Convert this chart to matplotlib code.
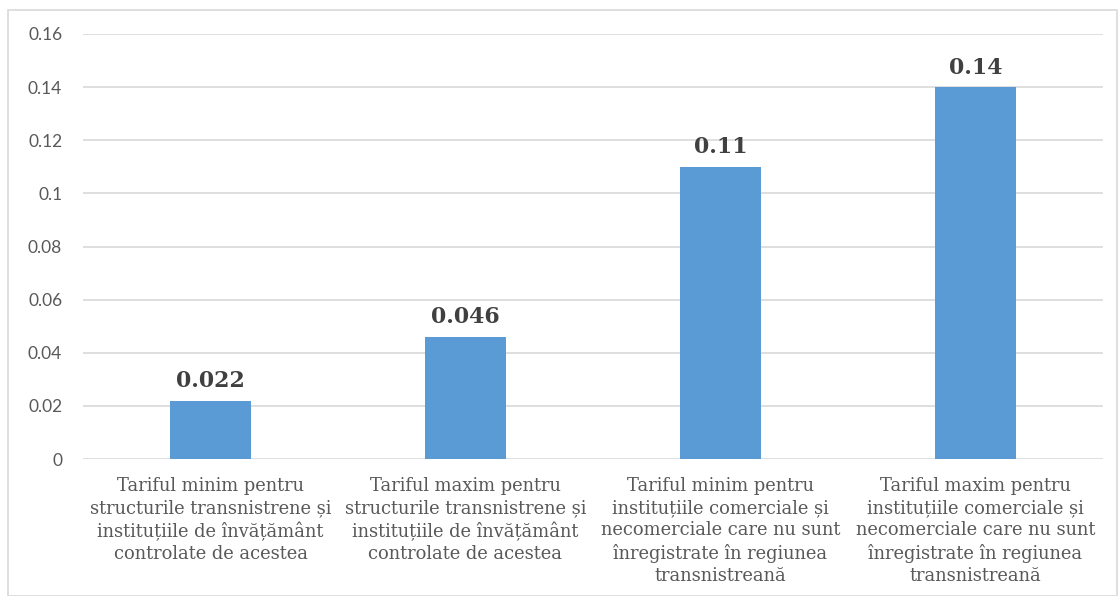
import matplotlib
matplotlib.use("Agg")
import matplotlib.pyplot as plt
from matplotlib.patches import Rectangle

categories = [
    "Tariful minim pentru\nstructurile transnistrene și\ninstituțiile de învățământ\ncontrolate de acestea",
    "Tariful maxim pentru\nstructurile transnistrene și\ninstituțiile de învățământ\ncontrolate de acestea",
    "Tariful minim pentru\ninstituțiile comerciale și\nnecomerciale care nu sunt\nînregistrate în regiunea\ntransnistreană",
    "Tariful maxim pentru\ninstituțiile comerciale și\nnecomerciale care nu sunt\nînregistrate în regiunea\ntransnistreană",
]
values = [0.022, 0.046, 0.11, 0.14]
value_labels = ["0.022", "0.046", "0.11", "0.14"]
y_ticks = [0, 0.02, 0.04, 0.06, 0.08, 0.1, 0.12, 0.14, 0.16]
y_tick_labels = ["0", "0.02", "0.04", "0.06", "0.08", "0.1", "0.12", "0.14", "0.16"]

W, H = 1119, 596
fig = plt.figure(figsize=(W / 100, H / 100), dpi=100)
fig.patches.append(Rectangle((8 / W, 0), (W - 10) / W, (H - 10) / H, transform=fig.transFigure,
                             fill=False, edgecolor="#D9D9D9", linewidth=1.2))

ax = fig.add_axes([83 / W, (H - 459) / H, (1103 - 83) / W, (459 - 34) / H])
x = list(range(len(values)))
ax.bar(x, values, width=0.314, color="#5B9BD5", zorder=3)
ax.set_xlim(-0.5, 3.5)
ax.set_ylim(0, 0.16)
ax.set_yticks(y_ticks)
ax.set_yticklabels(y_tick_labels, fontsize=12.5, color="#595959", family="Lato")
ax.set_xticks(x)
ax.set_xticklabels(categories, fontsize=12.9, color="#595959", family="DejaVu Serif",
                   linespacing=1.29)
ax.tick_params(axis="both", length=0)
ax.tick_params(axis="y", pad=15)
ax.tick_params(axis="x", pad=13)
ax.grid(axis="y", color="#D9D9D9", linewidth=1.2, zorder=0)
for s in ax.spines.values():
    s.set_visible(False)

for xi, v, lab in zip(x, values, value_labels):
    ax.annotate(lab, (xi, v), xytext=(0, 6), textcoords="offset points", ha="center", va="bottom",
                fontsize=15.8, fontweight="bold", color="#404040", family="DejaVu Serif")

fig.savefig("out.png", dpi=100)
